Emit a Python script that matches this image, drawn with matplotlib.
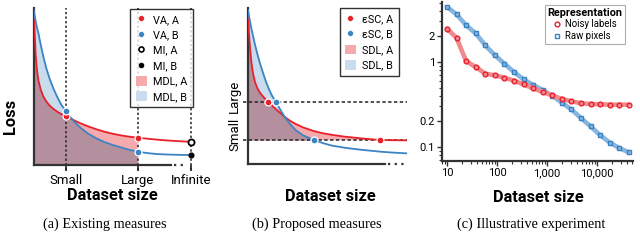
import numpy as np
import matplotlib
matplotlib.use('Agg')
import matplotlib.pyplot as plt
from matplotlib.lines import Line2D
from matplotlib.patches import Patch
from matplotlib.ticker import FixedLocator, LogLocator, NullFormatter, FixedFormatter
import matplotlib.transforms as mtransforms

plt.rcParams['font.family'] = ['Roboto', 'DejaVu Sans']

# ---------------- Panel (a): existing measures (schematic) ----------------
a_size = [0, 0.6, 1.2, 2, 3, 4.5, 6, 8, 10, 12.5, 15, 17.5, 20.3, 23, 26, 30, 35, 40,
          45, 50, 55, 60, 66.1, 72, 78, 84, 90, 95, 100]
a_loss_A = [100, 86, 72, 62, 54.5, 48.5, 44.5, 41, 38.5, 36.2, 34.4, 32.9, 31.6, 30.2,
            28.7, 26.8, 24.8, 23.0, 21.5, 20.2, 19.2, 18.4, 17.6, 17.0, 16.4, 15.9,
            15.5, 15.2, 15.0]
a_loss_B = [100, 96.5, 93, 89, 85, 77.5, 70.5, 62.5, 56, 49.5, 43.8, 39, 35, 31.3, 27.7,
            23.8, 20.0, 17.1, 14.8, 13.0, 11.5, 10.0, 8.6, 7.7, 7.1, 6.8, 6.6, 6.5, 6.5]
a_tick_labels = ['Small', 'Large', 'Infinite']
a_tick_pos = [20.3, 66.1, 100]
a_va_A = [31.6, 17.6]
a_va_B = [35.0, 8.6]
a_mi_A = 15.0
a_mi_B = 6.5

# ---------------- Panel (b): proposed measures (schematic) ----------------
b_size = [0, 0.6, 1.3, 2.2, 3.2, 4.4, 6, 7.6, 9.5, 11.3, 13.2, 15.1, 17.5, 20.2, 23.1,
          26.5, 30.2, 34.7, 41.6, 47.3, 52.9, 61.1, 70.6, 83.2, 92.6, 100]
b_loss_A = [100, 85.1, 75.4, 65.6, 58.8, 53.3, 49.1, 46.3, 43.9, 41.9, 40.0, 38.1, 35.8,
            33.4, 30.7, 28.2, 26.1, 23.9, 21.5, 20.1, 19.1, 17.9, 16.9, 15.7, 15.6, 15.5]
b_loss_B = [100, 96.1, 92.5, 87.7, 83.1, 77.6, 71.1, 65.3, 59.1, 53.6, 48.7, 44.5, 40.5,
            35.7, 30.7, 26.1, 22.0, 18.8, 15.7, 13.7, 12.1, 10.7, 9.5, 8.2, 7.5, 7.1]
b_eps_labels = ['Small', 'Large']
b_eps = [15.7, 40.5]
b_esc_A = [83.2, 12.6]
b_esc_B = [41.6, 17.5]

# ---------------- Panel (c): illustrative experiment ----------------
c_size = [10, 15.5, 24.2, 37.5, 58.3, 90.6, 140.7, 218.6, 339.6, 527.7, 820, 1274,
          1979, 3075, 4778, 7424, 11535, 17922, 27846, 43266]
c_noisy = [2.47, 1.92, 1.02, 0.873, 0.729, 0.697, 0.654, 0.603, 0.546, 0.490, 0.444,
           0.406, 0.367, 0.345, 0.327, 0.321, 0.318, 0.315, 0.315, 0.315]
c_raw = [4.44, 3.64, 2.70, 2.17, 1.57, 1.20, 0.956, 0.762, 0.625, 0.536, 0.469, 0.402,
         0.332, 0.277, 0.219, 0.175, 0.138, 0.113, 0.0973, 0.0865]
c_xticks = [10, 100, 1000, 10000]
c_xticklabels = ['10', '100', '1,000', '10,000']
c_yticks = [0.1, 0.2, 1, 2]
c_yticklabels = ['0.1', '0.2', '1', '2']

RED = '#e8202a'
BLUE = '#3b84c4'
PINK = '#f5aaae'
LBLUE = '#c8dcee'
OVER = '#b48f9e'
DARK = '#333333'

W, H = 640, 247
fig = plt.figure(figsize=(W / 100, H / 100), dpi=100)


def ax_px(l, t, r, b):
    return fig.add_axes([l / W, 1 - b / H, (r - l) / W, (b - t) / H])


def style_spines(ax):
    for s in ['top', 'right']:
        ax.spines[s].set_visible(False)
    for s in ['left', 'bottom']:
        ax.spines[s].set_linewidth(1.6)
        ax.spines[s].set_color(DARK)


# ---------- (a) ----------
axA = ax_px(33.7, 8, 193, 165)
xa = np.array(a_size); ra = np.array(a_loss_A); ba = np.array(a_loss_B)
axA.set_xlim(0, 101.3); axA.set_ylim(0, 101.3)
style_spines(axA)
m = xa <= a_tick_pos[1] + 1e-9
lo = np.minimum(ra, ba)
axA.fill_between(xa[m], 0, lo[m], color=OVER, lw=0, zorder=1)
axA.fill_between(xa[m], ba[m], ra[m], where=ra[m] >= ba[m], interpolate=True, color=PINK, lw=0, zorder=1)
axA.fill_between(xa[m], ra[m], ba[m], where=ba[m] >= ra[m], interpolate=True, color=LBLUE, lw=0, zorder=1)
for p in a_tick_pos:
    axA.plot([p, p], [-0.03, 1.0], transform=mtransforms.blended_transform_factory(axA.transData, axA.transAxes),
             color='#222222', lw=1.1, ls=(0, (1.5, 1.5)), clip_on=False, zorder=2)
axA.plot(xa, ra, color=RED, lw=1.3, zorder=3)
axA.plot(xa, ba, color=BLUE, lw=1.3, zorder=3)
axA.spines['bottom'].set_bounds(0, 87)
axA.plot([89.5, 97.5], [0, 0], color=DARK, lw=1.6, ls=(0, (1, 2)), clip_on=False, zorder=2)
axA.plot(a_tick_pos[:2], a_va_A, 'o', ms=5, mfc=RED, mec='white', mew=0.9, zorder=5, clip_on=False)
axA.plot(a_tick_pos[:2], a_va_B, 'o', ms=5, mfc=BLUE, mec='white', mew=0.9, zorder=5, clip_on=False)
axA.plot([a_tick_pos[2]], [a_mi_A], 'o', ms=4.4, mfc='white', mec='black', mew=1.3, zorder=5, clip_on=False)
axA.plot([a_tick_pos[2]], [a_mi_B], 'o', ms=3.4, mfc='black', mec='black', zorder=5, clip_on=False)
axA.set_xticks(a_tick_pos, a_tick_labels)
axA.set_yticks([])
axA.tick_params(axis='x', length=4, width=1.2, color='#222222', labelsize=9.5, pad=2.5)
hA = [Line2D([], [], ls='none', marker='o', ms=4.2, mfc=RED, mec='white', mew=0.4),
      Line2D([], [], ls='none', marker='o', ms=4.2, mfc=BLUE, mec='white', mew=0.4),
      Line2D([], [], ls='none', marker='o', ms=3.6, mfc='white', mec='black', mew=1.2),
      Line2D([], [], ls='none', marker='o', ms=3.0, mfc='black', mec='black'),
      Patch(facecolor=PINK, edgecolor='none'),
      Patch(facecolor=LBLUE, edgecolor='none')]
legA = axA.legend(hA, ['VA, A', 'VA, B', 'MI, A', 'MI, B', 'MDL, A', 'MDL, B'],
                  loc='upper right', bbox_to_anchor=(1.0, 0.995), frameon=True, fancybox=False,
                  edgecolor='black', fontsize=7.8, handlelength=1.0, handleheight=1.0,
                  handletextpad=0.6, labelspacing=0.45, borderpad=0.5, borderaxespad=0.)
legA.get_frame().set_linewidth(1.0)

# ---------- (b) ----------
axB = ax_px(248, 8.3, 407, 164.3)
xb = np.array(b_size); rb = np.array(b_loss_A); bb = np.array(b_loss_B)
axB.set_xlim(0, 100.2); axB.set_ylim(0, 101.1)
style_spines(axB)
eps_s = b_eps[0]
tr = np.maximum(rb, eps_s); tb = np.maximum(bb, eps_s)
lo_b = np.minimum(tr, tb)
axB.fill_between(xb, eps_s, lo_b, color=OVER, lw=0, zorder=1)
axB.fill_between(xb, tb, tr, where=tr >= tb, interpolate=True, color=PINK, lw=0, zorder=1)
axB.fill_between(xb, tr, tb, where=tb >= tr, interpolate=True, color=LBLUE, lw=0, zorder=1)
blend = mtransforms.blended_transform_factory(axB.transAxes, axB.transData)
for e in b_eps:
    axB.plot([-0.032, 1.0], [e, e], transform=blend, color='#222222', lw=1.1,
             ls=(0, (2.2, 1.6)), clip_on=False, zorder=2)
axB.plot(xb, rb, color=RED, lw=1.3, zorder=3)
axB.plot(xb, bb, color=BLUE, lw=1.3, zorder=3)
axB.spines['bottom'].set_bounds(0, 86.3)
axB.plot([88.5, 99.5], [0, 0], color=DARK, lw=1.6, ls=(0, (1, 2)), clip_on=False, zorder=2)
axB.plot(b_esc_A, b_eps, 'o', ms=5, mfc=RED, mec='white', mew=0.9, zorder=5, clip_on=False)
axB.plot(b_esc_B, b_eps, 'o', ms=5, mfc=BLUE, mec='white', mew=0.9, zorder=5, clip_on=False)
axB.set_xticks([])
axB.set_yticks(b_eps, b_eps_labels)
axB.tick_params(axis='y', length=0, labelsize=9.5, pad=5)
for lab in axB.get_yticklabels():
    lab.set_rotation(90)
    lab.set_va('center')
    lab.set_transform(lab.get_transform() + mtransforms.ScaledTranslation(0, 4 / 72, fig.dpi_scale_trans))
hB = [Line2D([], [], ls='none', marker='o', ms=4.2, mfc=RED, mec='white', mew=0.4),
      Line2D([], [], ls='none', marker='o', ms=4.2, mfc=BLUE, mec='white', mew=0.4),
      Patch(facecolor=PINK, edgecolor='none'),
      Patch(facecolor=LBLUE, edgecolor='none')]
legB = axB.legend(hB, ['εSC, A', 'εSC, B', 'SDL, A', 'SDL, B'],
                  loc='upper right', bbox_to_anchor=(0.95, 1.0), frameon=True, fancybox=False,
                  edgecolor='black', fontsize=7.8, handlelength=1.0, handleheight=1.0,
                  handletextpad=0.6, labelspacing=0.45, borderpad=0.5, borderaxespad=0.)
legB.get_frame().set_linewidth(1.0)

# ---------- (c) ----------
axC = ax_px(442, 2, 633, 161)
axC.set_xscale('log'); axC.set_yscale('log')
axC.set_xlim(7.94, 52500); axC.set_ylim(0.0685, 5.08)
style_spines(axC)
axC.plot(c_size, c_raw, color='#86b5df', lw=3.3, solid_capstyle='round', zorder=2,
         marker='s', ms=3.4, mfc='none', mec=BLUE, mew=1.0)
axC.plot(c_size, c_noisy, color='#f08a8f', lw=3.3, solid_capstyle='round', zorder=3,
         marker='o', ms=3.4, mfc='none', mec=RED, mew=1.0)
axC.xaxis.set_major_locator(FixedLocator(c_xticks))
axC.xaxis.set_major_formatter(FixedFormatter(c_xticklabels))
axC.xaxis.set_minor_locator(LogLocator(base=10, subs=np.arange(2, 10)))
axC.xaxis.set_minor_formatter(NullFormatter())
axC.yaxis.set_major_locator(FixedLocator(c_yticks))
axC.yaxis.set_major_formatter(FixedFormatter(c_yticklabels))
axC.yaxis.set_minor_locator(LogLocator(base=10, subs=np.arange(2, 10)))
axC.yaxis.set_minor_formatter(NullFormatter())
axC.tick_params(which='major', length=3.5, width=1.0, color=DARK, labelsize=8, pad=1.5)
axC.tick_params(which='minor', length=2, width=0.8, color=DARK)
hC = [Line2D([], [], ls='none', marker='o', ms=3.4, mfc='none', mec=RED, mew=1.0),
      Line2D([], [], ls='none', marker='s', ms=3.4, mfc='none', mec=BLUE, mew=1.0)]
legC = axC.legend(hC, ['Noisy labels', 'Raw pixels'], title='Representation',
                  title_fontproperties={'weight': 'bold', 'size': 7.8},
                  loc='upper right', bbox_to_anchor=(0.96, 0.98), frameon=True, fancybox=False,
                  edgecolor='#999999', fontsize=6.9, handlelength=0.8, handletextpad=0.5,
                  labelspacing=0.15, borderpad=0.3, borderaxespad=0.)
legC.get_frame().set_linewidth(0.8)

# ---------- labels & captions ----------
xl = dict(ha='center', va='center', fontsize=11.8, fontweight='bold')
fig.text(112.5 / W, 1 - 195 / H, 'Dataset size', **xl)
fig.text(330 / W, 1 - 196 / H, 'Dataset size', **xl)
fig.text(538 / W, 1 - 197 / H, 'Dataset size', **xl)
fig.text(11 / W, 1 - 116 / H, 'Loss', rotation=90, **xl)
cap = dict(ha='center', va='center', fontsize=10.3, family=['Liberation Serif', 'DejaVu Serif'])
fig.text(105 / W, 1 - 224 / H, '(a) Existing measures', **cap)
fig.text(317 / W, 1 - 224 / H, '(b) Proposed measures', **cap)
fig.text(531 / W, 1 - 224 / H, '(c) Illustrative experiment', **cap)

fig.savefig('out.png', dpi=100)
